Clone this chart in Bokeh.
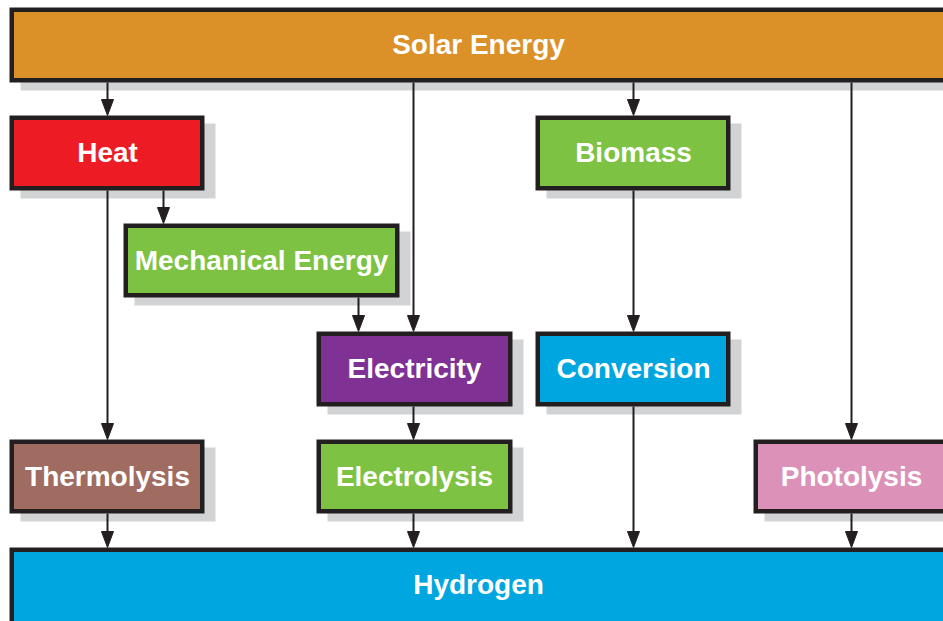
from bokeh.plotting import figure
from bokeh.models import Range1d, ColumnDataSource
from bokeh.core.properties import value
from bokeh.embed import file_html
from bokeh.resources import INLINE

# Nodes (outer box edges in diagram units)
labels = ["Solar Energy", "Heat", "Biomass", "Mechanical Energy", "Electricity",
          "Conversion", "Thermolysis", "Electrolysis", "Photolysis", "Hydrogen"]
left = [9, 9, 535, 123, 316, 535, 9, 316, 753, 9]
right = [960, 204, 730, 399, 512, 730, 204, 512, 960, 960]
top = [7, 115, 115, 223, 331, 331, 439, 439, 439, 547]
bottom = [82, 190, 190, 297, 406, 406, 513, 513, 513, 640]
label_x = [478, 107, 633, 261, 414, 633, 107, 414, 851, 478]
label_y = [44, 152, 152, 260, 368, 368, 476, 476, 476, 584]
colors = ["#DB9128", "#ED1C24", "#7DC242", "#7DC242", "#7F3293",
          "#00A6E0", "#A06C62", "#7DC242", "#DC92B8", "#00A6E0"]

# Edges: x position, start y, end y (arrow tip)
edge_x = [107, 413, 633, 851, 163, 107, 358, 633, 413, 107, 413, 633, 851]
edge_y0 = [82, 82, 82, 82, 190, 190, 297, 190, 406, 513, 513, 406, 513]
edge_y1 = [115, 331, 115, 439, 223, 439, 331, 331, 439, 547, 547, 547, 547]

BORDER = 4.5
SHADOW_DX, SHADOW_DY = 11, 8
HEAD_W, HEAD_L = 12, 16
DARK = "#231F20"

p = figure(width=943, height=621, output_backend="svg", toolbar_location=None,
           x_range=Range1d(0, 943), y_range=Range1d(621, 0),
           x_axis_type=None, y_axis_type=None, min_border=0)
p.grid.visible = False
p.outline_line_color = None
p.background_fill_color = "white"

h = BORDER / 2
src = ColumnDataSource(dict(
    left=[v + h for v in left], right=[v - h for v in right],
    top=[v + h for v in top], bottom=[v - h for v in bottom],
    sl=[v + SHADOW_DX for v in left], sr=[v + SHADOW_DX for v in right],
    st=[v + SHADOW_DY for v in top], sb=[v + SHADOW_DY for v in bottom],
    color=colors, label=labels, lx=label_x, ly=label_y,
))

# shadows
p.quad(left="sl", right="sr", top="st", bottom="sb", source=src,
       fill_color="#D1D3D4", line_color=None)

# connectors
p.segment(x0=edge_x, y0=edge_y0, x1=edge_x, y1=[y - HEAD_L + 2 for y in edge_y1],
          line_color=DARK, line_width=2)
xs = [[x - HEAD_W / 2, x + HEAD_W / 2, x] for x in edge_x]
ys = [[y - HEAD_L, y - HEAD_L, y] for y in edge_y1]
p.patches(xs=xs, ys=ys, fill_color=DARK, line_color=DARK, line_width=1)

# boxes
p.quad(left="left", right="right", top="top", bottom="bottom", source=src,
       fill_color="color", line_color=DARK, line_width=BORDER, line_join="miter")

p.text(x="lx", y="ly", text="label", source=src, text_color="white",
       text_font=value("Liberation Sans"), text_font_style="bold",
       text_font_size="28px", text_align="center", text_baseline="middle")

open("out.html", "w").write(file_html(p, INLINE))
